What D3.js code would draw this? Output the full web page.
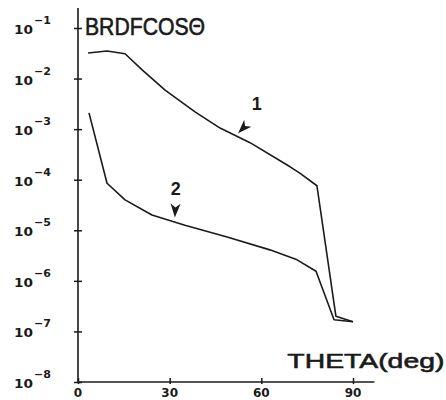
<!DOCTYPE html>
<html>
<head>
<meta charset="utf-8">
<script src="https://cdn.jsdelivr.net/npm/d3@7"></script>
<style>
  html, body { margin: 0; padding: 0; background: #fff; }
  svg { display: block; }
</style>
</head>
<body>
<svg id="chart" width="446" height="400"></svg>
<script>
// ---- data ----
const xTicks = [0, 30, 60, 90];
const yTickExponents = [-1, -2, -3, -4, -5, -6, -7, -8];
const titleText = "BRDFCOSΘ";
const xLabelText = "THETA(deg)";

const theta1 = [3.3, 9.5, 15.4, 20.9, 28.5, 38.3, 46.5, 56.3, 69.4, 72.6, 78.2, 84.4, 90];
const value1 = [3.2e-2, 3.5e-2, 3.1e-2, 1.5e-2, 5.9e-3, 2.2e-3, 1.05e-3, 5.4e-4, 1.8e-4, 1.35e-4, 7.6e-5, 2.0e-7, 1.55e-7];
const theta2 = [3.6, 9.5, 15.4, 24.2, 35.0, 48.8, 62.8, 71.7, 77.9, 83.8, 90];
const value2 = [2.1e-3, 8.5e-5, 4.0e-5, 2.0e-5, 1.26e-5, 7.4e-6, 4.1e-6, 2.6e-6, 1.55e-6, 1.7e-7, 1.55e-7];

const annotLabels = ["1", "2"];
const annotTipTheta = [52.4, 31.7];
const annotTipValue = [8.3e-4, 1.8e-5];
const annotLabelTheta = [58.5, 32.0];
const annotLabelValue = [2.4e-3, 5.0e-5];

// ---- scales ----
const svg = d3.select("#chart");
const x = d3.scaleLinear().domain([0, 90]).range([78, 353]);
const y = d3.scaleLog().domain([1e-8, 1e-1]).range([382, 28]);
const ink = "#1a1a1a";

// ---- axes ----
const yAxis = d3.axisLeft(y).tickValues(yTickExponents.map(e => Math.pow(10, e))).tickFormat("").tickSize(4);
const gy = svg.append("g").attr("transform", `translate(${x(0)},0)`).call(yAxis);
gy.select(".domain").remove();
gy.selectAll(".tick line").attr("x1", -4).attr("x2", 4).attr("stroke", ink).attr("stroke-width", 1.5);

const xAxis = d3.axisBottom(x).tickValues(xTicks).tickFormat("").tickSize(0);
const gx = svg.append("g").attr("transform", `translate(0,${y(1e-8)})`).call(xAxis);
gx.select(".domain").remove();
gx.selectAll(".tick line").attr("y1", -4).attr("y2", 2).attr("stroke", ink).attr("stroke-width", 1.5);

// axis lines
svg.append("line").attr("x1", x(0)).attr("x2", x(0)).attr("y1", y(1e-8)).attr("y2", y(1e-1) - 20)
  .attr("stroke", ink).attr("stroke-width", 1.6);
svg.append("line").attr("x1", x(0)).attr("x2", x(97)).attr("y1", y(1e-8)).attr("y2", y(1e-8))
  .attr("stroke", ink).attr("stroke-width", 1.6);

// y tick labels
const labFont = "'DejaVu Sans', sans-serif";
yTickExponents.forEach(e => {
  const yy = y(Math.pow(10, e));
  const t = svg.append("text").attr("x", 14).attr("y", yy + 6)
    .attr("font-family", labFont).attr("font-weight", "bold").attr("font-size", 12).attr("fill", ink);
  t.append("tspan").text("10").attr("textLength", 19).attr("lengthAdjust", "spacingAndGlyphs");
  t.append("tspan").attr("dy", -10).attr("dx", 1).attr("font-size", 11).text("−" + Math.abs(e));
});

// x tick labels
xTicks.forEach(v => {
  svg.append("text").attr("x", x(v)).attr("y", y(1e-8) + 15).attr("text-anchor", "middle")
    .attr("font-family", labFont).attr("font-weight", "bold").attr("font-size", 12).attr("fill", ink)
    .text(v);
});

// titles
svg.append("text").attr("x", x(0) + 7).attr("y", y(1e-1) + 7)
  .attr("font-family", "'Liberation Sans', Arial, sans-serif").attr("font-size", 23).attr("fill", ink)
  .attr("stroke", ink).attr("stroke-width", 0.6)
  .attr("textLength", 120).attr("lengthAdjust", "spacingAndGlyphs").text(titleText);
svg.append("text").attr("x", x(97) + 70).attr("y", y(1e-8) - 14).attr("text-anchor", "end")
  .attr("font-family", "'Liberation Sans', Arial, sans-serif").attr("font-size", 21).attr("fill", ink)
  .attr("stroke", ink).attr("stroke-width", 0.6)
  .attr("textLength", 157).attr("lengthAdjust", "spacingAndGlyphs").text(xLabelText);

// ---- curves ----
const line = d3.line().x(d => x(d[0])).y(d => y(d[1]));
const s1 = theta1.map((t, i) => [t, value1[i]]);
const s2 = theta2.map((t, i) => [t, value2[i]]);
[s1, s2].forEach(s => {
  svg.append("path").datum(s).attr("d", line).attr("fill", "none")
    .attr("stroke", ink).attr("stroke-width", 1.6).attr("stroke-linejoin", "round");
});

// ---- annotations ----
annotLabels.forEach((lab, i) => {
  const tx = x(annotTipTheta[i]), ty = y(annotTipValue[i]);
  const lx = x(annotLabelTheta[i]), ly = y(annotLabelValue[i]);
  const ang = Math.atan2(ty - (ly + 4), tx - lx);
  const len = 14, half = 5, notch = 4;
  const ux = Math.cos(ang), uy = Math.sin(ang), px = -uy, py = ux;
  const bx = tx - ux * len, by = ty - uy * len;
  const nx = tx - ux * (len - notch), ny = ty - uy * (len - notch);
  const d = `M${tx},${ty} L${bx + px * half},${by + py * half} L${nx},${ny} L${bx - px * half},${by - py * half} Z`;
  svg.append("path").attr("d", d).attr("fill", ink);
  svg.append("text").attr("x", lx).attr("y", ly).attr("text-anchor", "middle")
    .attr("font-family", "'Liberation Sans', Arial, sans-serif").attr("font-weight", "bold")
    .attr("font-size", 18).attr("fill", ink).text(lab);
});
</script>
</body>
</html>
